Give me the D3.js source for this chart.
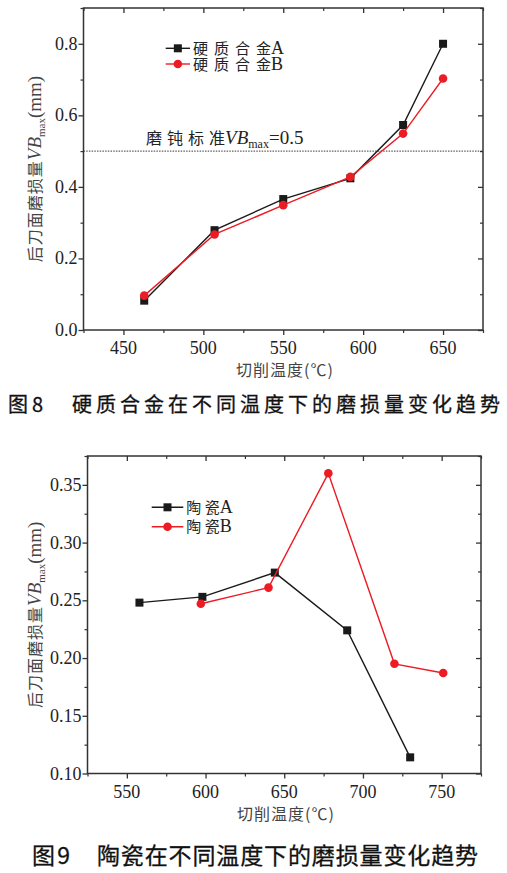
<!DOCTYPE html>
<html>
<head>
<meta charset="utf-8">
<script src="https://cdn.jsdelivr.net/npm/d3@7/dist/d3.min.js"></script>
<style>
  html, body { margin: 0; padding: 0; background: #fff; }
  svg { display: block; }
  .serif { font-family: 'Liberation Serif', 'DejaVu Serif', serif; }
  .cjk { font-family: 'Noto Sans CJK SC', 'Noto Sans', sans-serif; }
</style>
</head>
<body>
<svg id="chart" width="507" height="873"></svg>
<script>
// ---------- DATA ----------
// Figure 8: cemented carbide
const fig8Temp = [463, 507, 550, 592, 625, 650];
const fig8WearA = [0.082, 0.279, 0.366, 0.424, 0.573, 0.800];
const fig8WearB = [0.096, 0.267, 0.349, 0.428, 0.549, 0.703];
const fig8XTicks = [450, 500, 550, 600, 650];
const fig8YTicks = [0.0, 0.2, 0.4, 0.6, 0.8];
const fig8Limit = 0.5;
const fig8Legend = ["硬质合金A", "硬质合金B"];

// Figure 9: ceramic
const fig9TempA = [558, 598, 644, 690, 730];
const fig9WearA = [0.248, 0.253, 0.274, 0.224, 0.114];
const fig9TempB = [597, 640, 678, 720, 751];
const fig9WearB = [0.247, 0.261, 0.360, 0.195, 0.187];
const fig9XTicks = [550, 600, 650, 700, 750];
const fig9YTicks = [0.10, 0.15, 0.20, 0.25, 0.30, 0.35];
const fig9Legend = ["陶 瓷A", "陶 瓷B"];

const RED = "#ec1c24";
const BLACK = "#1a1a1a";

const svg = d3.select("#chart");

function styleTicks(sel, w) {
  sel.select(".domain").remove();
  sel.selectAll(".tick line").attr("stroke", "#333").attr("stroke-width", w);
  sel.attr("font-family", null).attr("font-size", null);
}

function drawChart(cfg) {
  const g = svg.append("g");
  const x = d3.scaleLinear().domain(cfg.xDomain).range([cfg.left, cfg.right]);
  const y = d3.scaleLinear().domain(cfg.yDomain).range([cfg.bottom, cfg.top]);

  const xMinor = d3.range(cfg.xDomain[0], cfg.xDomain[1] + 1e-9, cfg.xMinorStep)
    .filter(v => !cfg.xTicks.some(t => Math.abs(t - v) < 1e-9));
  const yMinor = d3.range(cfg.yDomain[0], cfg.yDomain[1] + 1e-9, cfg.yMinorStep)
    .map(v => +v.toFixed(4))
    .filter(v => !cfg.yTicks.some(t => Math.abs(t - v) < 1e-9));

  // bottom axis (outward)
  styleTicks(g.append("g").attr("transform", `translate(0,${cfg.bottom})`)
    .call(d3.axisBottom(x).tickValues(cfg.xTicks).tickSize(5).tickFormat("")), 1.3);
  styleTicks(g.append("g").attr("transform", `translate(0,${cfg.bottom})`)
    .call(d3.axisBottom(x).tickValues(xMinor).tickSize(3).tickFormat("")), 1.2);
  g.selectAll(null).data(cfg.xTicks).enter().append("text")
    .attr("class", "serif")
    .attr("x", d => x(d)).attr("y", cfg.bottom + 24)
    .attr("text-anchor", "middle").attr("font-size", 18).attr("fill", "#222")
    .text(d3.format("d"));

  // left axis (outward)
  styleTicks(g.append("g").attr("transform", `translate(${cfg.left},0)`)
    .call(d3.axisLeft(y).tickValues(cfg.yTicks).tickSize(5).tickFormat("")), 1.3);
  styleTicks(g.append("g").attr("transform", `translate(${cfg.left},0)`)
    .call(d3.axisLeft(y).tickValues(yMinor).tickSize(3).tickFormat("")), 1.2);
  g.selectAll(null).data(cfg.yTicks).enter().append("text")
    .attr("class", "serif")
    .attr("x", cfg.left - 6).attr("y", d => y(d) + 6)
    .attr("text-anchor", "end").attr("font-size", 18).attr("fill", "#222")
    .text(d3.format(cfg.yFormat));

  // top axis (inward mirror)
  styleTicks(g.append("g").attr("transform", `translate(0,${cfg.top})`)
    .call(d3.axisBottom(x).tickValues(cfg.xTicks).tickSize(5).tickFormat("")), 1.3);
  styleTicks(g.append("g").attr("transform", `translate(0,${cfg.top})`)
    .call(d3.axisBottom(x).tickValues(xMinor).tickSize(3).tickFormat("")), 1.2);

  // right axis (inward mirror)
  styleTicks(g.append("g").attr("transform", `translate(${cfg.right},0)`)
    .call(d3.axisLeft(y).tickValues(cfg.yTicks).tickSize(5).tickFormat("")), 1.3);
  styleTicks(g.append("g").attr("transform", `translate(${cfg.right},0)`)
    .call(d3.axisLeft(y).tickValues(yMinor).tickSize(3).tickFormat("")), 1.2);

  // frame
  g.append("rect")
    .attr("x", cfg.left).attr("y", cfg.top)
    .attr("width", cfg.right - cfg.left).attr("height", cfg.bottom - cfg.top)
    .attr("fill", "none").attr("stroke", "#333").attr("stroke-width", 1.5);

  // threshold line
  if (cfg.limit !== undefined) {
    g.append("line")
      .attr("x1", cfg.left).attr("x2", cfg.right)
      .attr("y1", y(cfg.limit)).attr("y2", y(cfg.limit))
      .attr("stroke", "#222").attr("stroke-width", 0.9).attr("stroke-dasharray", "1.5,1.2");
    const t = g.append("text")
      .attr("x", cfg.limitLabelX).attr("y", y(cfg.limit) - 7)
      .attr("fill", "#222");
    t.append("tspan").attr("class", "cjk").attr("font-size", 16).style("letter-spacing", "5px").text("磨钝标");
    t.append("tspan").attr("class", "cjk").attr("font-size", 16).text("准");
    t.append("tspan").attr("class", "serif").attr("font-size", 19).attr("font-style", "italic").text("VB");
    t.append("tspan").attr("class", "serif").attr("font-size", 12).attr("dy", 4).text("max");
    t.append("tspan").attr("class", "serif").attr("font-size", 19).attr("dy", -4).text("=" + cfg.limit);
  }

  // series
  const line = d3.line().x(d => x(d[0])).y(d => y(d[1]));
  cfg.series.forEach(s => {
    const pts = s.xs.map((v, i) => [v, s.ys[i]]);
    g.append("path").datum(pts).attr("d", line)
      .attr("fill", "none").attr("stroke", s.color).attr("stroke-width", 1.4);
    if (s.marker === "square") {
      g.selectAll(null).data(pts).enter().append("rect")
        .attr("x", d => x(d[0]) - 4).attr("y", d => y(d[1]) - 4)
        .attr("width", 8).attr("height", 8).attr("fill", s.color);
    } else {
      g.selectAll(null).data(pts).enter().append("circle")
        .attr("cx", d => x(d[0])).attr("cy", d => y(d[1]))
        .attr("r", 4.3).attr("fill", s.color);
    }
  });

  // legend
  cfg.series.forEach((s, i) => {
    const ly = cfg.legendY[i];
    g.append("line").attr("x1", cfg.legendX[0]).attr("x2", cfg.legendX[1])
      .attr("y1", ly).attr("y2", ly).attr("stroke", s.color).attr("stroke-width", 1.4);
    const mx = (cfg.legendX[0] + cfg.legendX[1]) / 2;
    if (s.marker === "square") {
      g.append("rect").attr("x", mx - 4).attr("y", ly - 4).attr("width", 8).attr("height", 8).attr("fill", s.color);
    } else {
      g.append("circle").attr("cx", mx).attr("cy", ly).attr("r", 4.3).attr("fill", s.color);
    }
    const label = s.name;
    const t = g.append("text").attr("x", cfg.legendX[1] + 3).attr("y", ly + 5.5).attr("fill", "#222");
    t.append("tspan").attr("class", "cjk").attr("font-size", 15)
      .style("letter-spacing", cfg.legendSpacing + "px").text(label.slice(0, -2));
    t.append("tspan").attr("class", "cjk").attr("font-size", 15).text(label.slice(-2, -1));
    t.append("tspan").attr("class", "serif").attr("font-size", 18).text(label.slice(-1));
  });

  // y axis title
  const cy = (cfg.top + cfg.bottom) / 2;
  const yt = g.append("text")
    .attr("transform", `translate(${cfg.yTitleX},${cy}) rotate(-90)`)
    .attr("text-anchor", "middle").attr("fill", "#444");
  yt.append("tspan").attr("class", "cjk").attr("font-size", 16).style("letter-spacing", "1px").text("后刀面磨损量");
  yt.append("tspan").attr("class", "serif").attr("font-size", 19).attr("font-style", "italic").text("VB");
  yt.append("tspan").attr("class", "serif").attr("font-size", 11).attr("dy", 4).text("max");
  yt.append("tspan").attr("class", "serif").attr("font-size", 19).attr("dy", -4).text("(mm)");

  // x axis title
  g.append("text").attr("x", cfg.xTitleX).attr("y", cfg.bottom + 46)
    .attr("text-anchor", "middle").attr("fill", "#444")
    .attr("class", "cjk").attr("font-size", 16).style("letter-spacing", "1px")
    .text("切削温度(℃)");

  // caption
  const cap = g.append("g").attr("fill", "#111").attr("stroke", "#111").attr("stroke-width", 0.3);
  cap.append("text").attr("x", cfg.capX[0]).attr("y", cfg.capY)
    .attr("class", "cjk").attr("font-size", cfg.capSize)
    .attr("textLength", cfg.capNumLen).attr("lengthAdjust", "spacing")
    .text(cfg.capNum);
  cap.append("text").attr("x", cfg.capX[1]).attr("y", cfg.capY)
    .attr("class", "cjk").attr("font-size", cfg.capSize)
    .attr("textLength", cfg.capX[2] - cfg.capX[1]).attr("lengthAdjust", "spacing")
    .text(cfg.capText);
}

drawChart({
  left: 83.5, right: 483, top: 8, bottom: 330,
  xDomain: [425, 675], yDomain: [0, 0.9],
  xTicks: fig8XTicks, yTicks: fig8YTicks,
  xMinorStep: 25, yMinorStep: 0.1, yFormat: ".1f",
  limit: fig8Limit, limitLabelX: 146,
  series: [
    { name: fig8Legend[0], xs: fig8Temp, ys: fig8WearA, color: BLACK, marker: "square" },
    { name: fig8Legend[1], xs: fig8Temp, ys: fig8WearB, color: RED, marker: "circle" }
  ],
  legendX: [165.7, 190], legendY: [48.3, 64], legendSpacing: 6,
  yTitleX: 41, xTitleX: 285,
  capX: [8, 72, 500], capY: 412, capSize: 20, capNum: "图8", capNumLen: 35,
  capText: "硬质合金在不同温度下的磨损量变化趋势"
});

drawChart({
  left: 87.5, right: 481, top: 456, bottom: 773.5,
  xDomain: [525, 775], yDomain: [0.10, 0.375],
  xTicks: fig9XTicks, yTicks: fig9YTicks,
  xMinorStep: 25, yMinorStep: 0.025, yFormat: ".2f",
  series: [
    { name: fig9Legend[0], xs: fig9TempA, ys: fig9WearA, color: BLACK, marker: "square" },
    { name: fig9Legend[1], xs: fig9TempB, ys: fig9WearB, color: RED, marker: "circle" }
  ],
  legendX: [151.7, 183.3], legendY: [507.3, 526.7], legendSpacing: 0,
  yTitleX: 41, xTitleX: 286,
  capX: [32, 97, 478], capY: 864, capSize: 23, capNum: "图9", capNumLen: 38,
  capText: "陶瓷在不同温度下的磨损量变化趋势"
});
</script>
</body>
</html>
